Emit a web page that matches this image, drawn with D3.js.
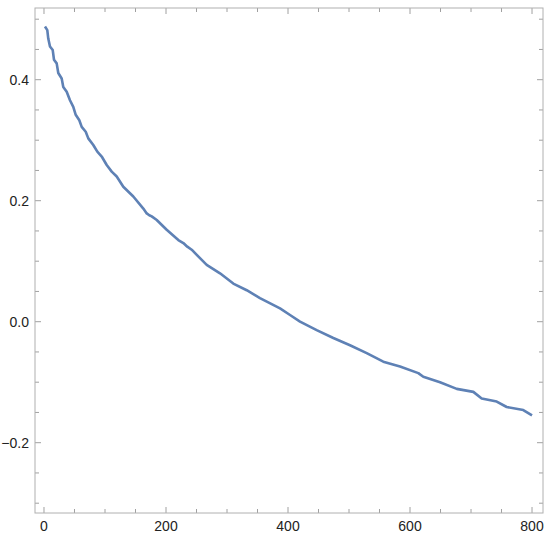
<!DOCTYPE html>
<html>
<head>
<meta charset="utf-8">
<script src="https://cdn.jsdelivr.net/npm/d3@7"></script>
<style>
  body { margin: 0; background: #fff; }
  text { font-family: "Liberation Sans", Arial, sans-serif; }
</style>
</head>
<body>
<svg id="chart" width="550" height="537"></svg>
<script>
// data
var xs = [1.6, 5.4, 7.0, 9.8, 14.3, 16.4, 20.8, 23.4, 29.0, 31.6, 37.2, 42.6, 48.0, 52.0, 57.9, 61.8,
          68.4, 72.6, 80.8, 87.4, 94.6, 102.8, 111.0, 119.2, 130.0, 146.4, 162.8, 168.4, 172.6, 176.6,
          184.8, 201.1, 220.2, 228.4, 234.9, 242.1, 255.7, 266.7, 288.5, 310.3, 332.3, 354, 386.9, 403.3,
          419.7, 447, 474.3, 501.6, 529, 556.2, 583.6, 613.6, 621.8, 649.2, 676.6, 703.8, 717.5, 742.1,
          758.5, 785.7, 800];
var ys = [0.488, 0.482, 0.468, 0.455, 0.449, 0.433, 0.427, 0.411, 0.402, 0.388, 0.380, 0.366, 0.355, 0.342, 0.333, 0.322,
          0.314, 0.303, 0.292, 0.281, 0.273, 0.259, 0.248, 0.240, 0.223, 0.207, 0.187, 0.179, 0.176, 0.174,
          0.168, 0.152, 0.135, 0.130, 0.124, 0.119, 0.105, 0.094, 0.080, 0.063, 0.052, 0.039, 0.022, 0.011,
          0.000, -0.014, -0.027, -0.039, -0.052, -0.066, -0.074, -0.085, -0.091, -0.100, -0.111, -0.116, -0.127, -0.132,
          -0.141, -0.146, -0.155];
var xTicks = [0, 200, 400, 600, 800];
var yTicks = [-0.2, 0, 0.2, 0.4];

var margin = { top: 8, right: 7, bottom: 24, left: 35 },
    width = 550 - margin.left - margin.right,
    height = 537 - margin.top - margin.bottom;

var x = d3.scaleLinear().domain([-14.75, 818]).range([0, width]);
var y = d3.scaleLinear().domain([-0.3162, 0.5185]).range([height, 0]);

var svg = d3.select('#chart')
  .append('g')
  .attr('transform', 'translate(' + margin.left + ',' + margin.top + ')');

var frameColor = '#b0b0b0';
var tickColor = '#a0a0a0';

var xMinor = d3.range(0, 801, 50);
var yMinor = d3.range(-0.3, 0.51, 0.05).map(function(v){ return +v.toFixed(2); });
function isMajor(arr, v) { return arr.some(function(t){ return Math.abs(t - v) < 1e-6; }); }

// ticks (inward, all four sides)
xMinor.forEach(function(v) {
  var len = isMajor(xTicks, v) ? 6 : 4;
  svg.append('line').attr('x1', x(v)).attr('x2', x(v)).attr('y1', height).attr('y2', height - len)
     .attr('stroke', tickColor);
  svg.append('line').attr('x1', x(v)).attr('x2', x(v)).attr('y1', 0).attr('y2', len)
     .attr('stroke', tickColor);
});
yMinor.forEach(function(v) {
  var len = isMajor(yTicks, v) ? 6 : 4;
  svg.append('line').attr('x1', 0).attr('x2', len).attr('y1', y(v)).attr('y2', y(v))
     .attr('stroke', tickColor);
  svg.append('line').attr('x1', width).attr('x2', width - len).attr('y1', y(v)).attr('y2', y(v))
     .attr('stroke', tickColor);
});

// frame
svg.append('rect').attr('x', 0).attr('y', 0).attr('width', width).attr('height', height)
   .attr('fill', 'none').attr('stroke', frameColor).attr('stroke-width', 1);

// tick labels
svg.selectAll('.xl').data(xTicks).enter().append('text')
   .attr('x', function(d){ return x(d); })
   .attr('y', height + 18)
   .attr('text-anchor', 'middle')
   .attr('font-size', '14px')
   .attr('fill', '#222')
   .text(function(d){ return d; });

svg.selectAll('.yl').data(yTicks).enter().append('text')
   .attr('x', -6)
   .attr('y', function(d){ return y(d); })
   .attr('dy', '0.35em')
   .attr('text-anchor', 'end')
   .attr('font-size', '14px')
   .attr('fill', '#222')
   .text(function(d){ return d === 0 ? '0.0' : d3.format('.1f')(d).replace('-', '\u2212'); });

// curve
var line = d3.line()
  .x(function(d){ return x(d[0]); })
  .y(function(d){ return y(d[1]); });

svg.append('path')
   .datum(xs.map(function(v, i){ return [v, ys[i]]; }))
   .attr('d', line)
   .attr('fill', 'none')
   .attr('stroke', '#5E81B5')
   .attr('stroke-width', 2.6)
   .attr('stroke-linejoin', 'round');
</script>
</body>
</html>
